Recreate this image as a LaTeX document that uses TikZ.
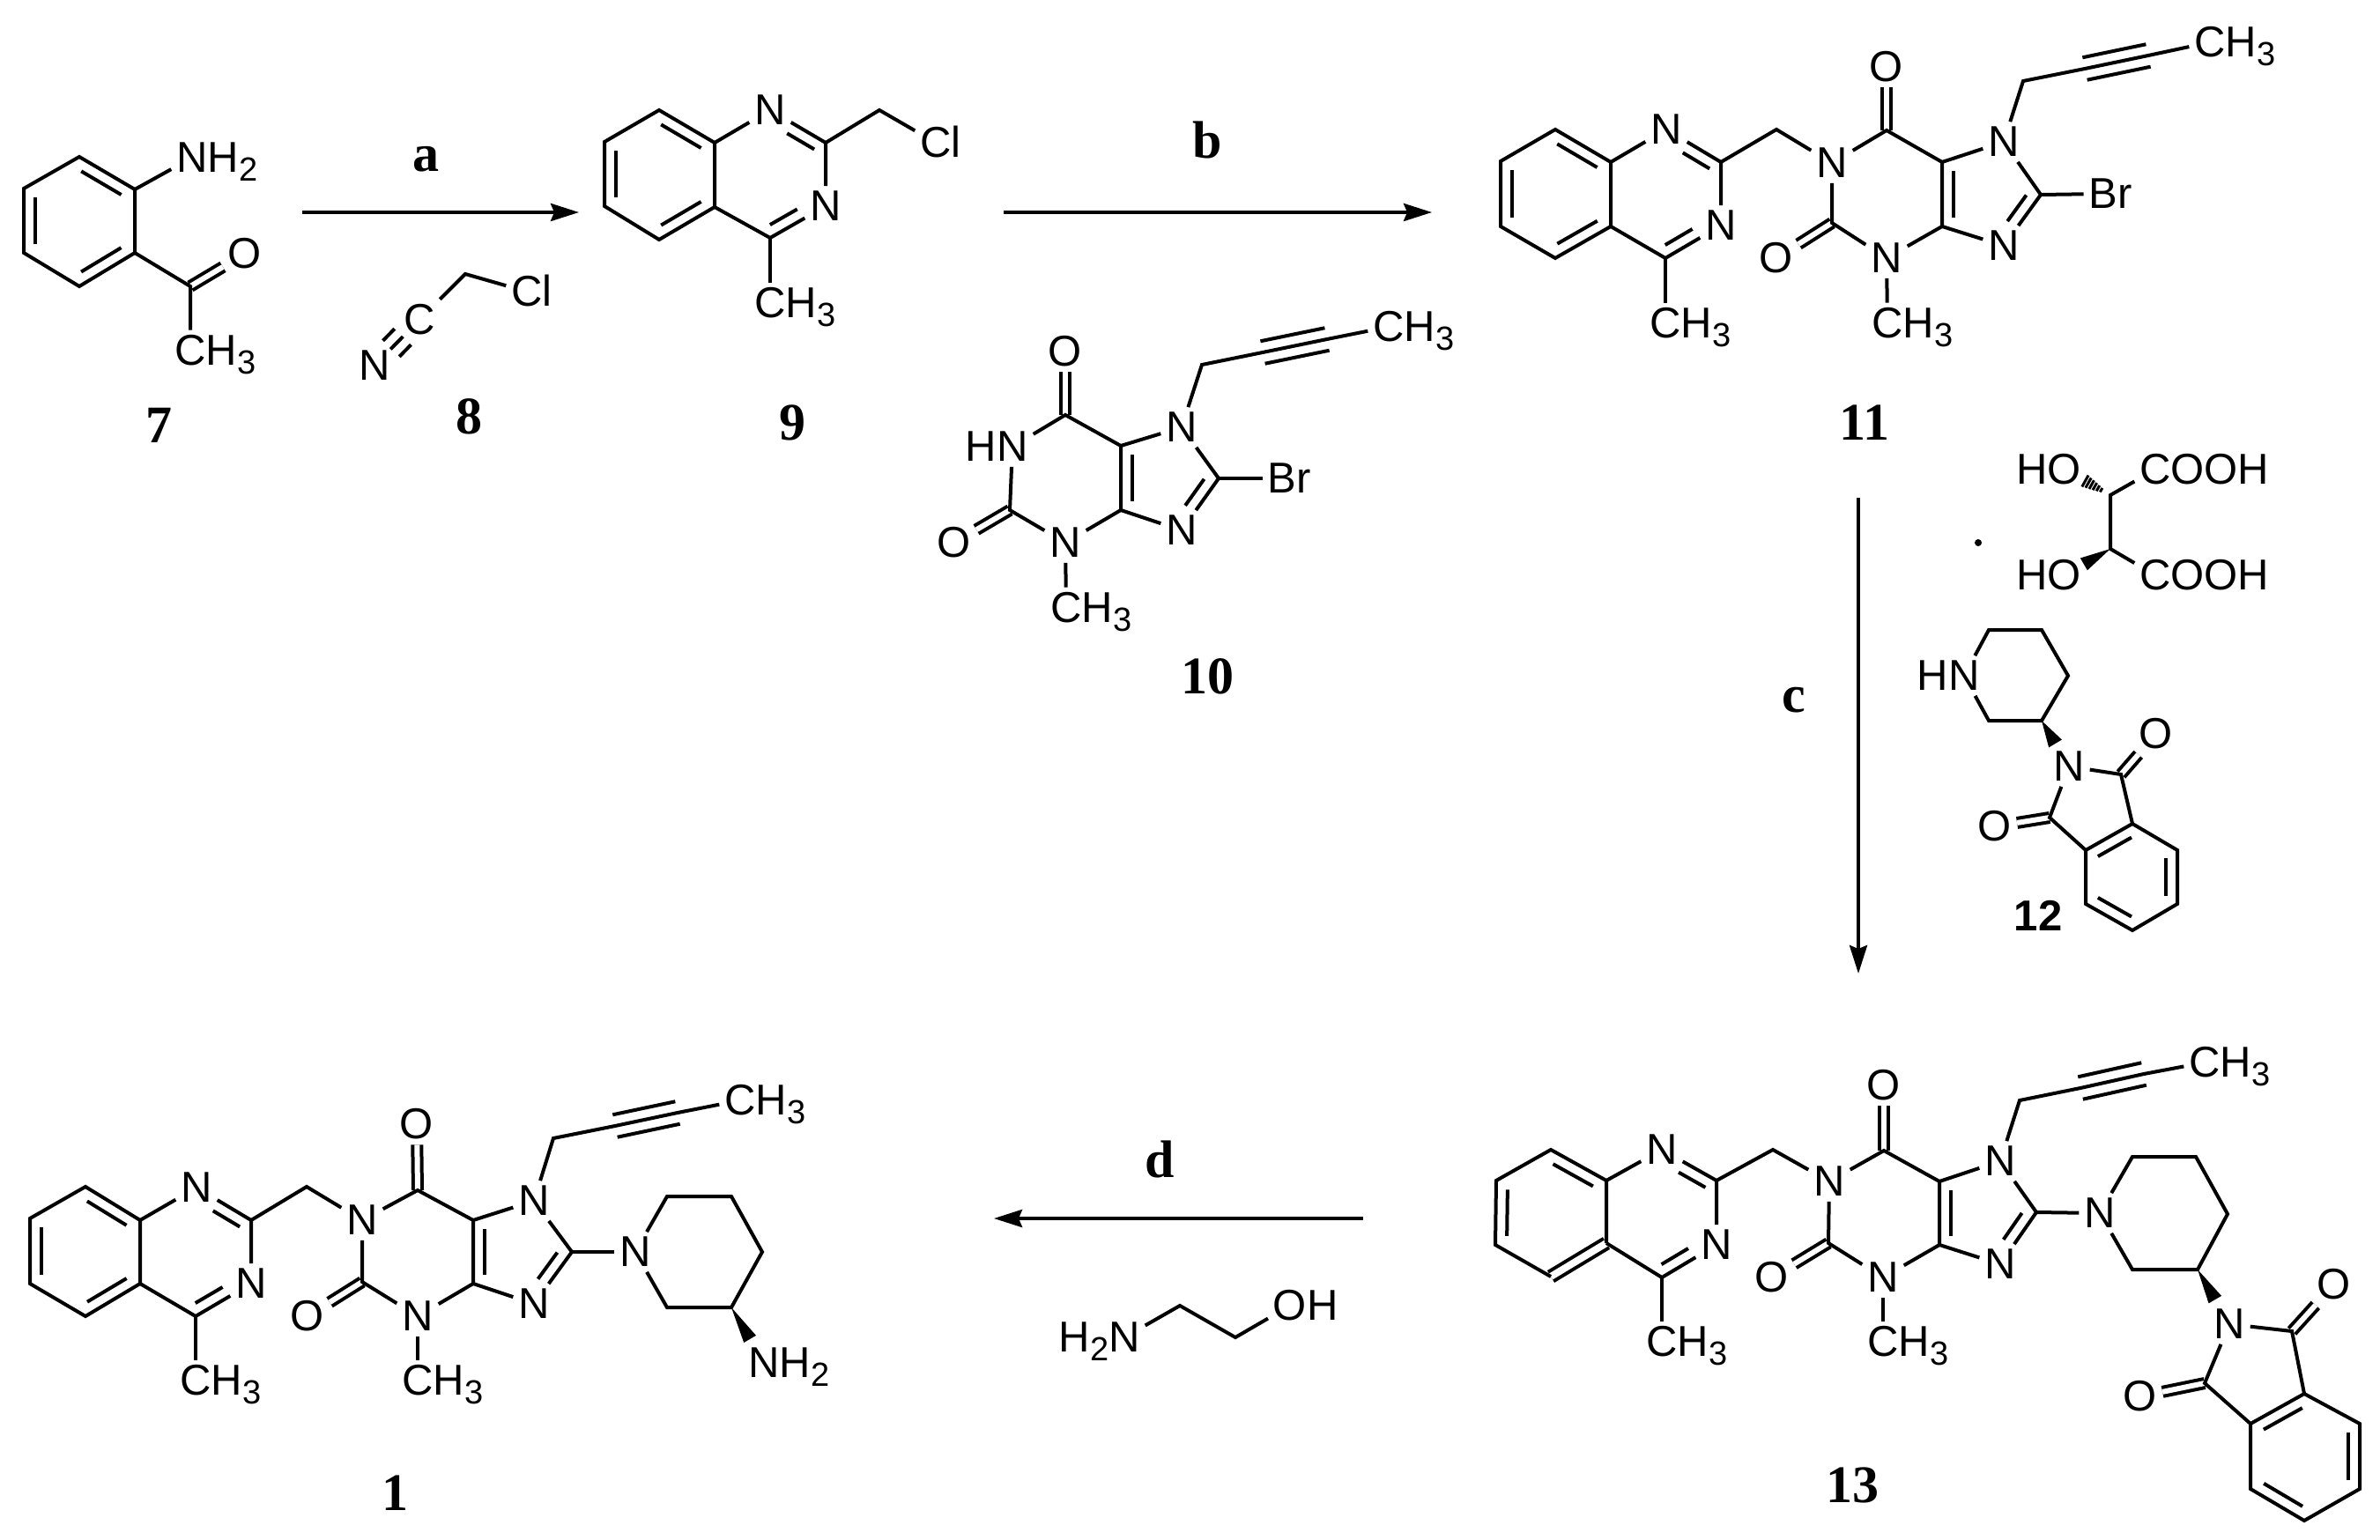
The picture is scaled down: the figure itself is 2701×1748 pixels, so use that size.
\documentclass[tikz,border=0pt]{standalone}
\usepackage{fontspec}
\setmainfont{Liberation Sans}
\newfontfamily\serifnum{Liberation Serif}
\usetikzlibrary{arrows.meta,calc}

\newcommand{\sbnum}[1]{\raisebox{-5pt}{\fontsize{19}{19}\selectfont #1}}
% inner line of a double bond, on the right hand of the way from #2 to #3
\NewDocumentCommand{\ibond}{O{.14} m m O{.14}}{\draw[bond] ($(#2)!#1!(#3)!6.5pt!90:(#3)$) -- ($(#3)!#4!(#2)!6.5pt!-90:(#2)$);}
\newcommand{\swedge}[4]{\fill (#1) -- ($(#1)!#3!(#2)!#4!90:(#2)$) -- ($(#1)!#3!(#2)!#4!-90:(#2)$) -- cycle;}
\newcommand{\hashln}[4]{\draw[line width=1.5pt] ($(#1)!#3!(#2)!#4!90:(#2)$) -- ($(#1)!#3!(#2)!#4!-90:(#2)$);}

\tikzset{
  bond/.style={line width=2pt},
  dbl/.style={line width=2pt,double,double distance=3pt},
  rxn/.style={line width=2pt,-{Stealth[length=16pt,width=10pt,inset=2pt]}},
  atom/.style={inner sep=3pt,outer sep=0pt,font=\fontsize{24.5}{24.5}\selectfont},
  tail/.style={atom,inner sep=0pt,anchor=base west,xshift=-3pt},
  head/.style={atom,inner sep=0pt,anchor=base east,xshift=3pt},
  cmpd/.style={inner sep=0pt,anchor=base,font=\fontsize{30}{30}\selectfont\serifnum\bfseries}
}

\begin{document}
\begin{tikzpicture}[x=0.5pt,y=0.5pt,yscale=-1,xscale=1]
\useasboundingbox (0,0) rectangle (2701,1748);

%Shape: Compound 7
\coordinate (7ra) at (90,178); \coordinate (7rb) at (153,215); \coordinate (7rc) at (153,287);
\coordinate (7rd) at (90,325); \coordinate (7re) at (27,287); \coordinate (7rf) at (27,214);
\coordinate (7co) at (216,325);
\node (7n) [atom] at (218,179) {N};
\node (7nh) [tail] at (7n.base east) {H\sbnum{2}};
\node (7o) [atom] at (278,288) {O};
\node (7me) [atom] at (216,398) {C};
\node (7mh) [tail] at (7me.base east) {H\sbnum{3}};
\draw[dbl] (7co) -- (7o);
\draw[bond] (7ra) -- (7rb) -- (7rc) -- (7rd) -- (7re) -- (7rf) -- cycle;
\draw[bond] (7rb) -- (7n);
\draw[bond] (7rc) -- (7co) -- (7me);
\ibond{7ra}{7rb} \ibond{7rc}{7rd} \ibond{7re}{7rf}

%Shape: Compound 8
\coordinate (8ch) at (528,311);
\node (8c) [atom] at (476,363) {C};
\node (8n) [atom] at (425,415) {N};
\node (8cl) [atom] at (598,331) {C};
\node (8cm) [tail] at (8cl.base east) {l};
\draw[bond] (8c) -- (8ch) -- (8cl);
\draw[bond,shorten <=-3pt,shorten >=-3pt] (8c) -- (8n);
\ibond[.37]{8c}{8n}[.37] \ibond[.37]{8n}{8c}[.37]

%Shape: Compound 9
\coordinate (9ra) at (748,125); \coordinate (9rb) at (811,162); \coordinate (9rc) at (811,235);
\coordinate (9rd) at (748,272); \coordinate (9re) at (686,234); \coordinate (9rf) at (686,161);
\coordinate (9qc2) at (937,162); \coordinate (9qc4) at (874,270); \coordinate (9ch) at (998,125);
\node (9qn1) [atom] at (874,125) {N};
\node (9qn3) [atom] at (937,234) {N};
\node (9qme) [atom] at (874,344) {C};
\node (9qmh) [tail] at (9qme.base east) {H\sbnum{3}};
\node (9cl) [atom] at (1062,162) {C};
\node (9cm) [tail] at (9cl.base east) {l};
\draw[bond] (9ra) -- (9rb) -- (9rc) -- (9rd) -- (9re) -- (9rf) -- cycle;
\draw[bond] (9rb) -- (9qn1) -- (9qc2) -- (9qn3) -- (9qc4) -- (9rc);
\draw[bond] (9qc4) -- (9qme);
\draw[bond] (9qc2) -- (9ch) -- (9cl);
\ibond{9ra}{9rb} \ibond{9rc}{9rd} \ibond{9re}{9rf}
\ibond[.41]{9qn1}{9qc2}[.1] \ibond[.41]{9qn3}{9qc4}[.1]

%Shape: Compound 10
\coordinate (10c2) at (1146,579); \coordinate (10c4) at (1272,579); \coordinate (10c5) at (1272,506);
\coordinate (10c6) at (1209,471); \coordinate (10c8) at (1383,543); \coordinate (10p1) at (1364,414);
\coordinate (10p2) at (1433,400); \coordinate (10p3) at (1506,385);
\node (10n1) [atom] at (1149,507) {N};
\node (10nh) [head] at (10n1.base west) {H};
\node (10n3) [atom] at (1209,616) {N};
\node (10n7) [atom] at (1341,485) {N};
\node (10n9) [atom] at (1341,602) {N};
\node (10o2) [atom] at (1083,616) {O};
\node (10o6) [atom] at (1209,399) {O};
\node (10me) [atom] at (1210,690) {C};
\node (10mh) [tail] at (10me.base east) {H\sbnum{3}};
\node (10br) [atom] at (1455,543) {B};
\node (10bs) [tail] at (10br.base east) {r};
\node (10pc) [atom] at (1576,371) {C};
\node (10ph) [tail] at (10pc.base east) {H\sbnum{3}};
\draw[dbl] (10c6) -- (10o6);
\draw[dbl] (10c2) -- (10o2);
\draw[bond] (10n1) -- (10c6) -- (10c5) -- (10c4) -- (10n3) -- (10c2) -- (10n1);
\draw[bond] (10c5) -- (10n7) -- (10c8) -- (10n9) -- (10c4);
\draw[bond] (10n3) -- (10me);
\draw[bond] (10c8) -- (10br);
\draw[bond] (10n7) -- (10p1) -- (10p2) -- (10p3) -- (10pc);
\ibond{10c4}{10c5} \ibond{10c8}{10n9}[.35]
\ibond[0]{10p2}{10p3}[0] \ibond[0]{10p3}{10p2}[0]

%Shape: Compound 11
\coordinate (11ra) at (1765,147); \coordinate (11rb) at (1828,184); \coordinate (11rc) at (1828,257);
\coordinate (11rd) at (1765,293); \coordinate (11re) at (1703,257); \coordinate (11rf) at (1703,183);
\coordinate (11qc2) at (1953,184); \coordinate (11qc4) at (1890,293); \coordinate (11ch) at (2016,147);
\coordinate (11c2) at (2079,253); \coordinate (11c4) at (2204,257); \coordinate (11c5) at (2204,184);
\coordinate (11c6) at (2141,148); \coordinate (11c8) at (2316,221); \coordinate (11p1) at (2296,92);
\coordinate (11p2) at (2366,78); \coordinate (11p3) at (2438,63);
\node (11qn1) [atom] at (1891,147) {N};
\node (11qn3) [atom] at (1953,256) {N};
\node (11qme) [atom] at (1890,367) {C};
\node (11qmh) [tail] at (11qme.base east) {H\sbnum{3}};
\node (11n1) [atom] at (2079,185) {N};
\node (11n3) [atom] at (2141,293) {N};
\node (11n7) [atom] at (2274,161) {N};
\node (11n9) [atom] at (2274,279) {N};
\node (11o2) [atom] at (2016,293) {O};
\node (11o6) [atom] at (2141,76) {O};
\node (11me) [atom] at (2142,367) {C};
\node (11mh) [tail] at (11me.base east) {H\sbnum{3}};
\node (11br) [atom] at (2387,220) {B};
\node (11bs) [tail] at (11br.base east) {r};
\node (11pc) [atom] at (2508,48) {C};
\node (11ph) [tail] at (11pc.base east) {H\sbnum{3}};
\draw[dbl] (11c6) -- (11o6);
\draw[dbl] (11c2) -- (11o2);
\draw[bond] (11ra) -- (11rb) -- (11rc) -- (11rd) -- (11re) -- (11rf) -- cycle;
\draw[bond] (11rb) -- (11qn1) -- (11qc2) -- (11qn3) -- (11qc4) -- (11rc);
\draw[bond] (11qc4) -- (11qme);
\draw[bond] (11qc2) -- (11ch) -- (11n1) -- (11c6) -- (11c5) -- (11c4) -- (11n3) -- (11c2) -- (11n1);
\draw[bond] (11c5) -- (11n7) -- (11c8) -- (11n9) -- (11c4);
\draw[bond] (11n3) -- (11me);
\draw[bond] (11c8) -- (11br);
\draw[bond] (11n7) -- (11p1) -- (11p2) -- (11p3) -- (11pc);
\ibond{11ra}{11rb} \ibond{11rc}{11rd} \ibond{11re}{11rf}
\ibond[.41]{11qn1}{11qc2}[.1] \ibond[.41]{11qn3}{11qc4}[.1]
\ibond{11c4}{11c5} \ibond{11c8}{11n9}[.35]
\ibond[0]{11p2}{11p3}[0] \ibond[0]{11p3}{11p2}[0]

%Shape: Tartaric acid
\coordinate (12ta) at (2395,562); \coordinate (12tb) at (2395,623);
\node (12oa) [atom] at (2343,533) {O};
\node (12ha) [head] at (12oa.base west) {H};
\node (12ob) [atom] at (2343,653) {O};
\node (12hb) [head] at (12ob.base west) {H};
\node (12ca) [atom] at (2446,533) {C};
\node (12da) [tail] at (12ca.base east) {OOH};
\node (12cb) [atom] at (2446,653) {C};
\node (12db) [tail] at (12cb.base east) {OOH};
\draw[bond] (12ca) -- (12ta) -- (12tb) -- (12cb);
\swedge{12tb}{12ob}{.58}{4pt}
\hashln{12ta}{12oa}{.2}{1.3pt} \hashln{12ta}{12oa}{.27}{1.8pt} \hashln{12ta}{12oa}{.34}{2.3pt}
\hashln{12ta}{12oa}{.41}{2.8pt} \hashln{12ta}{12oa}{.48}{3.2pt} \hashln{12ta}{12oa}{.55}{3.7pt}
\fill (2245,616) circle (2pt);

%Shape: Compound 12
\coordinate (12a) at (2257,715); \coordinate (12b) at (2317,715); \coordinate (12c) at (2347,767);
\coordinate (12d) at (2317,818); \coordinate (12e) at (2257,818);
\coordinate (12k) at (2407,879); \coordinate (12l) at (2326,928);
\coordinate (12ra) at (2420,935); \coordinate (12rb) at (2471,965); \coordinate (12rc) at (2471,1026);
\coordinate (12rd) at (2420,1056); \coordinate (12re) at (2367,1026); \coordinate (12rf) at (2367,965);
\node (12n) [atom] at (2229,767) {N};
\node (12nh) [head] at (12n.base west) {H};
\node (12pn) [atom] at (2348,870) {N};
\node (12ko) [atom] at (2447,833) {O};
\node (12lo) [atom] at (2264,938) {O};
\draw[dbl] (12k) -- (12ko);
\draw[dbl] (12l) -- (12lo);
\draw[bond] (12n) -- (12a) -- (12b) -- (12c) -- (12d) -- (12e) -- (12n);
\swedge{12d}{12pn}{.5}{4.3pt}
\draw[bond] (12pn) -- (12k) -- (12ra);
\draw[bond] (12pn) -- (12l) -- (12rf);
\draw[bond] (12ra) -- (12rb) -- (12rc) -- (12rd) -- (12re) -- (12rf) -- cycle;
\ibond{12rf}{12ra} \ibond{12rb}{12rc} \ibond{12rd}{12re}

%Shape: Compound 13
\coordinate (13ra) at (1760,1305); \coordinate (13rb) at (1823,1340); \coordinate (13rc) at (1823,1411);
\coordinate (13rd) at (1760,1449); \coordinate (13re) at (1697,1413); \coordinate (13rf) at (1698,1340);
\coordinate (13qc2) at (1948,1340); \coordinate (13qc4) at (1886,1450); \coordinate (13ch) at (2012,1305);
\coordinate (13c2) at (2075,1411); \coordinate (13c4) at (2201,1413); \coordinate (13c5) at (2201,1341);
\coordinate (13c6) at (2138,1306); \coordinate (13c8) at (2311,1376); \coordinate (13p1) at (2292,1249);
\coordinate (13p2) at (2361,1235); \coordinate (13p3) at (2433,1219);
\coordinate (13a) at (2420,1313); \coordinate (13b) at (2492,1313); \coordinate (13c) at (2528,1378);
\coordinate (13d) at (2494,1441); \coordinate (13e) at (2420,1441);
\coordinate (13k) at (2601,1511); \coordinate (13l) at (2502,1570);
\coordinate (13sa) at (2615,1582); \coordinate (13sb) at (2678,1616); \coordinate (13sc) at (2678,1690);
\coordinate (13sd) at (2615,1726); \coordinate (13se) at (2554,1690); \coordinate (13sf) at (2554,1616);
\node (13qn1) [atom] at (1886,1305) {N};
\node (13qn3) [atom] at (1948,1413) {N};
\node (13qme) [atom] at (1886,1523) {C};
\node (13qmh) [tail] at (13qme.base east) {H\sbnum{3}};
\node (13n1) [atom] at (2076,1341) {N};
\node (13n3) [atom] at (2137,1450) {N};
\node (13n7) [atom] at (2270,1318) {N};
\node (13n9) [atom] at (2270,1435) {N};
\node (13o2) [atom] at (2011,1450) {O};
\node (13o6) [atom] at (2138,1232) {O};
\node (13me) [atom] at (2137,1523) {C};
\node (13mh) [tail] at (13me.base east) {H\sbnum{3}};
\node (13pc) [atom] at (2502,1206) {C};
\node (13ph) [tail] at (13pc.base east) {H\sbnum{3}};
\node (13n) [atom] at (2383,1377) {N};
\node (13pn) [atom] at (2530,1503) {N};
\node (13ko) [atom] at (2649,1458) {O};
\node (13lo) [atom] at (2429,1585) {O};
\draw[dbl] (13c6) -- (13o6);
\draw[dbl] (13c2) -- (13o2);
\draw[dbl] (13k) -- (13ko);
\draw[dbl] (13l) -- (13lo);
\draw[dbl,double distance=4pt] (13rc) -- (13rd);
\draw[bond] (13rd) -- (13re) -- (13rf) -- (13ra) -- (13rb) -- (13rc);
\draw[bond] (13rb) -- (13qn1) -- (13qc2) -- (13qn3) -- (13qc4) -- (13rc);
\draw[bond] (13qc4) -- (13qme);
\draw[bond] (13qc2) -- (13ch) -- (13n1) -- (13c6) -- (13c5) -- (13c4) -- (13n3) -- (13c2) -- (13n1);
\draw[bond] (13c5) -- (13n7) -- (13c8) -- (13n9) -- (13c4);
\draw[bond] (13n3) -- (13me);
\draw[bond] (13c8) -- (13n);
\draw[bond] (13n7) -- (13p1) -- (13p2) -- (13p3) -- (13pc);
\draw[bond] (13n) -- (13a) -- (13b) -- (13c) -- (13d) -- (13e) -- (13n);
\swedge{13d}{13pn}{.55}{4.2pt}
\draw[bond] (13pn) -- (13k) -- (13sa);
\draw[bond] (13pn) -- (13l) -- (13sf);
\draw[bond] (13sa) -- (13sb) -- (13sc) -- (13sd) -- (13se) -- (13sf) -- cycle;
\ibond{13ra}{13rb} \ibond{13re}{13rf}
\ibond[.41]{13qn1}{13qc2}[.1] \ibond[.41]{13qn3}{13qc4}[.1]
\ibond{13c4}{13c5} \ibond{13c8}{13n9}[.35]
\ibond[0]{13p2}{13p3}[0] \ibond[0]{13p3}{13p2}[0]
\ibond{13sf}{13sa} \ibond{13sb}{13sc} \ibond{13sd}{13se}

%Shape: Compound 1
\coordinate (1ra) at (97,1347); \coordinate (1rb) at (159,1385); \coordinate (1rc) at (159,1457);
\coordinate (1rd) at (97,1494); \coordinate (1re) at (34,1457); \coordinate (1rf) at (34,1383);
\coordinate (1qc2) at (285,1385); \coordinate (1qc4) at (222,1494); \coordinate (1ch) at (348,1347);
\coordinate (1c2) at (411,1455); \coordinate (1c4) at (537,1457); \coordinate (1c5) at (537,1385);
\coordinate (1c6) at (474,1351); \coordinate (1c8) at (649,1421); \coordinate (1p1) at (628,1292);
\coordinate (1p2) at (698,1278); \coordinate (1p3) at (769,1263);
\coordinate (1a) at (757,1358); \coordinate (1b) at (830,1358); \coordinate (1c) at (865,1421);
\coordinate (1d) at (830,1484); \coordinate (1e) at (757,1484);
\node (1qn1) [atom] at (223,1348) {N};
\node (1qn3) [atom] at (285,1457) {N};
\node (1qme) [atom] at (222,1567) {C};
\node (1qmh) [tail] at (1qme.base east) {H\sbnum{3}};
\node (1n1) [atom] at (411,1385) {N};
\node (1n3) [atom] at (474,1494) {N};
\node (1n7) [atom] at (606,1363) {N};
\node (1n9) [atom] at (606,1480) {N};
\node (1o2) [atom] at (349,1494) {O};
\node (1o6) [atom] at (473,1276) {O};
\node (1me) [atom] at (474,1567) {C};
\node (1mh) [tail] at (1me.base east) {H\sbnum{3}};
\node (1pc) [atom] at (840,1249) {C};
\node (1ph) [tail] at (1pc.base east) {H\sbnum{3}};
\node (1n) [atom] at (721,1421) {N};
\node (1nn) [atom] at (867,1547) {N};
\node (1nh) [tail] at (1nn.base east) {H\sbnum{2}};
\draw[dbl] (1c6) -- (1o6);
\draw[dbl] (1c2) -- (1o2);
\draw[bond] (1ra) -- (1rb) -- (1rc) -- (1rd) -- (1re) -- (1rf) -- cycle;
\draw[bond] (1rb) -- (1qn1) -- (1qc2) -- (1qn3) -- (1qc4) -- (1rc);
\draw[bond] (1qc4) -- (1qme);
\draw[bond] (1qc2) -- (1ch) -- (1n1) -- (1c6) -- (1c5) -- (1c4) -- (1n3) -- (1c2) -- (1n1);
\draw[bond] (1c5) -- (1n7) -- (1c8) -- (1n9) -- (1c4);
\draw[bond] (1n3) -- (1me);
\draw[bond] (1c8) -- (1n);
\draw[bond] (1n7) -- (1p1) -- (1p2) -- (1p3) -- (1pc);
\draw[bond] (1n) -- (1a) -- (1b) -- (1c) -- (1d) -- (1e) -- (1n);
\swedge{1d}{1nn}{.57}{4pt}
\ibond{1ra}{1rb} \ibond{1rc}{1rd} \ibond{1re}{1rf}
\ibond[.41]{1qn1}{1qc2}[.1] \ibond[.41]{1qn3}{1qc4}[.1]
\ibond{1c4}{1c5} \ibond{1c8}{1n9}[.35]
\ibond[0]{1p2}{1p3}[0] \ibond[0]{1p3}{1p2}[0]

%Shape: Ethanolamine
\coordinate (ea) at (1339,1482); \coordinate (eb) at (1402,1518);
\node (en) [atom] at (1276,1518) {N};
\node (eh) [head] at (en.base west) {H\sbnum{2}};
\node (eo) [atom] at (1464,1482) {O};
\node (ei) [tail] at (eo.base east) {H};
\draw[bond] (en) -- (ea) -- (eb) -- (eo);

%Straight Lines
\coordinate (aa) at (343,241); \coordinate (ab) at (657,241);
\coordinate (ba) at (1139,241); \coordinate (bb) at (1625,241);
\coordinate (ca) at (2109,565); \coordinate (cb) at (2109,1105);
\coordinate (da) at (1547,1383); \coordinate (db) at (1128,1383);
\draw[rxn] (aa) -- (ab);
\draw[rxn] (ba) -- (bb);
\draw[rxn] (ca) -- (cb);
\draw[rxn] (da) -- (db);

% Text Node
\node (la) [cmpd] at (483,195) {a};
\node (lb) [cmpd] at (1370,180) {b};
\node (lc) [cmpd] at (2036,808) {c};
\node (ld) [cmpd] at (1316,1336) {d};
\node (l7) [cmpd] at (180,503) {7};
\node (l8) [cmpd] at (532,493) {8};
\node (l9) [cmpd] at (899,500) {9};
\node (l10) [cmpd] at (1370,787) {10};
\node (l11) [cmpd] at (2116,500) {11};
\node (l12) [atom,inner sep=0pt,anchor=base,font=\fontsize{24.5}{24.5}\selectfont\bfseries] at (2313,1056) {12};
\node (l13) [cmpd] at (2102,1705) {13};
\node (l1) [cmpd] at (448,1714) {1};

\end{tikzpicture}
\end{document}
